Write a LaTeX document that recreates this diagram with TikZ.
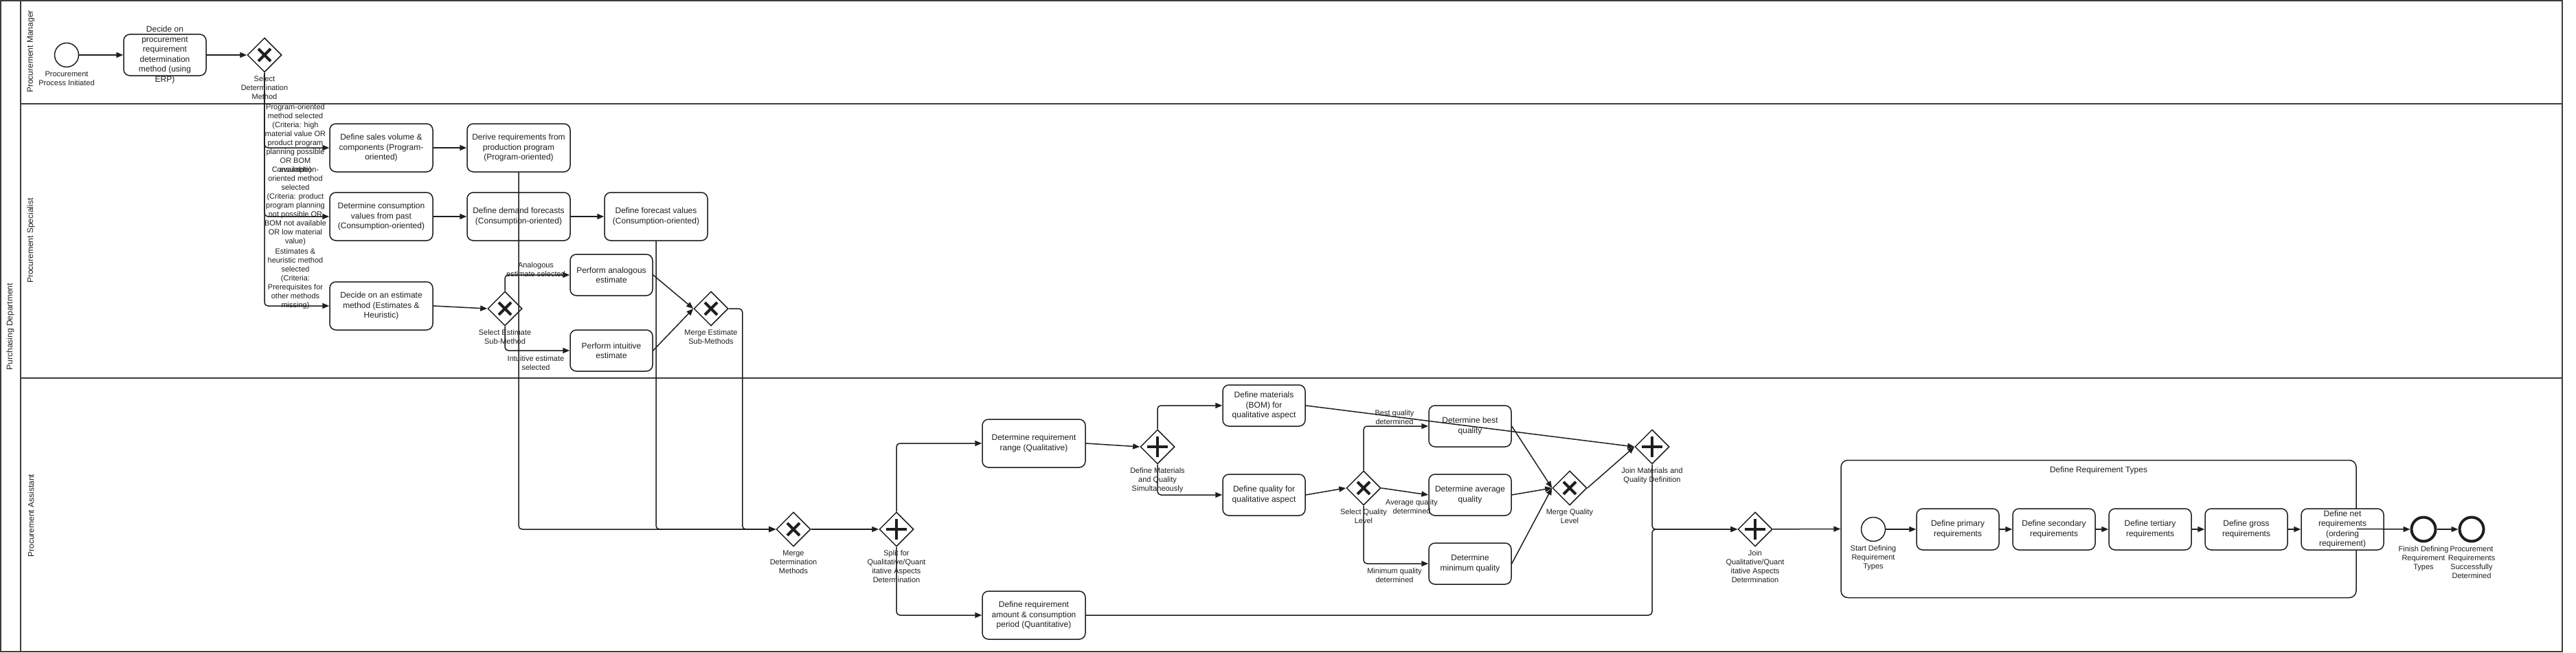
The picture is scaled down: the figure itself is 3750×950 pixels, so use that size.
\documentclass[tikz,border=0pt]{standalone}
\usepackage{fontspec}
\setmainfont{Liberation Sans}
\usetikzlibrary{shapes.geometric,arrows.meta,positioning,calc}
\definecolor{ink}{RGB}{30,30,30}
\definecolor{lanec}{RGB}{60,60,60}
\begin{document}
\begin{tikzpicture}[x=1pt,y=-1pt,
  every node/.style={font=\fontsize{12}{14.5}\selectfont, text=ink},
  task/.style={draw=ink, line width=1.5pt, rounded corners=9pt, fill=white, minimum width=120pt, minimum height=60pt, align=center, inner sep=1pt},
  wtask/.style={task, minimum width=150pt, minimum height=70pt},
  gwbase/.style={diamond, draw=ink, line width=1.5pt, fill=white, minimum width=50pt, minimum height=50pt, inner sep=0pt},
  gwx/.style={gwbase, path picture={\draw[ink, line width=4pt] ([shift={(-9pt,-9pt)}]path picture bounding box.center) -- ([shift={(9pt,9pt)}]path picture bounding box.center) ([shift={(-9pt,9pt)}]path picture bounding box.center) -- ([shift={(9pt,-9pt)}]path picture bounding box.center);}},
  gwp/.style={gwbase, path picture={\draw[ink, line width=4.5pt] ([shift={(-15pt,0pt)}]path picture bounding box.center) -- ([shift={(15pt,0pt)}]path picture bounding box.center) ([shift={(0pt,-15pt)}]path picture bounding box.center) -- ([shift={(0pt,15pt)}]path picture bounding box.center);}},
  startev/.style={circle, draw=ink, line width=1.5pt, fill=white, minimum size=35pt, inner sep=0pt},
  endev/.style={startev, line width=4pt},
  lbl/.style={font=\fontsize{11}{13}\selectfont, align=center, inner sep=0pt},
  flow/.style={draw=ink, line width=1.5pt, rounded corners=5pt, -{Triangle[length=10pt,width=8pt]}},
  lane/.style={draw=lanec, line width=2pt},
]
\useasboundingbox (0,0) rectangle (3750,950);
% pool and lanes
\draw[lane] (1,1) rectangle (3730,948);
\draw[lane] (30,1) -- (30,948);
\draw[lane] (30,151) -- (3730,151);
\draw[lane] (30,550) -- (3730,550);
\node[rotate=90] (pool) at (15,475) {Purchasing Department};
\node[rotate=90] (laneM) at (45,75) {Procurement Manager};
\node[rotate=90] (laneS) at (45,350) {Procurement Specialist};
\node[rotate=90] (laneA) at (45,750) {Procurement Assistant};
% manager lane
\node[startev] (s0) at (97,80) {};
\node[lbl, below=5pt of s0] (s0l) {Procurement\\Process Initiated};
\node[task] (t0) at (240,80) {};
\node[align=center, inner sep=0pt] (t0t) at (t0.center) {Decide on\\procurement\\requirement\\determination\\method (using\\ERP)};
\node[gwx] (g0) at (385,80) {};
\node[lbl, below=5pt of g0] (g0l) {Select\\Determination\\Method};
% specialist lane
\node[wtask] (a1) at (555,215) {Define sales volume \&\\components (Program-\\oriented)};
\node[wtask] (a2) at (755,215) {Derive requirements from\\production program\\(Program-oriented)};
\node[wtask] (b1) at (555,315) {Determine consumption\\values from past\\(Consumption-oriented)};
\node[wtask] (b2) at (755,315) {Define demand forecasts\\(Consumption-oriented)};
\node[wtask] (b3) at (955,315) {Define forecast values\\(Consumption-oriented)};
\node[wtask] (c1) at (555,445) {Decide on an estimate\\method (Estimates \&\\Heuristic)};
\node[gwx] (g1) at (735,449) {};
\node[lbl, below=5pt of g1] (g1l) {Select Estimate\\Sub-Method};
\node[task] (c2) at (890,400) {Perform analogous\\estimate};
\node[task] (c3) at (890,510) {Perform intuitive\\estimate};
\node[gwx] (g2) at (1035,449) {};
\node[lbl, below=5pt of g2] (g2l) {Merge Estimate\\Sub-Methods};
\node[lbl] (e1) at (430,202) {Program-oriented\\method selected\\(Criteria: high\\material value OR\\product program\\planning possible\\OR BOM\\available)};
\node[lbl] (e2) at (430,300) {Consumption-\\oriented method\\selected\\(Criteria: product\\program planning\\not possible OR\\BOM not available\\OR low material\\value)};
\node[lbl] (e3) at (430,406) {Estimates \&\\heuristic method\\selected\\(Criteria:\\Prerequisites for\\other methods\\missing)};
\node[lbl] (e4) at (780,392) {Analogous\\estimate selected};
\node[lbl] (e5) at (780,528) {Intuitive estimate\\selected};
% assistant lane
\node[gwx] (g3) at (1155,770) {};
\node[lbl, below=5pt of g3] (g3l) {Merge\\Determination\\Methods};
\node[gwp] (g4) at (1305,770) {};
\node[lbl, below=5pt of g4] (g4l) {Split for\\Qualitative/Quant\\itative Aspects\\Determination};
\node[wtask] (d1) at (1505,645) {Determine requirement\\range (Qualitative)};
\node[wtask] (d2) at (1505,895) {Define requirement\\amount \& consumption\\period (Quantitative)};
\node[gwp] (g5) at (1685,650) {};
\node[lbl, below=5pt of g5] (g5l) {Define Materials\\and Quality\\Simultaneously};
\node[task] (m1) at (1840,590) {Define materials\\(BOM) for\\qualitative aspect};
\node[task] (m2) at (1840,720) {Define quality for\\qualitative aspect};
\node[gwx] (g6) at (1985,710) {};
\node[lbl, below=5pt of g6] (g6l) {Select Quality\\Level};
\node[task] (q1) at (2140,620) {Determine best\\quality};
\node[task] (q2) at (2140,720) {Determine average\\quality};
\node[task] (q3) at (2140,820) {Determine\\minimum quality};
\node[gwx] (g7) at (2285,710) {};
\node[lbl, below=5pt of g7] (g7l) {Merge Quality\\Level};
\node[gwp] (g8) at (2405,650) {};
\node[lbl, below=5pt of g8] (g8l) {Join Materials and\\Quality Definition};
\node[gwp] (g9) at (2555,770) {};
\node[lbl, below=5pt of g9] (g9l) {Join\\Qualitative/Quant\\itative Aspects\\Determination};
\node[lbl] (e6) at (2030,607) {Best quality\\determined};
\node[lbl] (e7) at (2055,737) {Average quality\\determined};
\node[lbl] (e8) at (2030,837) {Minimum quality\\determined};
% sub-process
\node[draw=ink, line width=1.5pt, rounded corners=10pt, minimum width=750pt, minimum height=200pt, inner sep=0pt] (sp) at (3055,769.5) {};
\node (spt) at (3055,684) {Define Requirement Types};
\node[startev] (s1) at (2727,770) {};
\node[lbl, below=5pt of s1] (s1l) {Start Defining\\Requirement\\Types};
\node[task] (r1) at (2850,770) {Define primary\\requirements};
\node[task] (r2) at (2990,770) {Define secondary\\requirements};
\node[task] (r3) at (3130,770) {Define tertiary\\requirements};
\node[task] (r4) at (3270,770) {Define gross\\requirements};
\node[task] (r5) at (3410,770) {Define net\\requirements\\(ordering\\requirement)};
\node[endev] (f1) at (3528,770) {};
\node[lbl, below=5pt of f1] (f1l) {Finish Defining\\Requirement\\Types};
\node[endev] (f2) at (3598,770) {};
\node[lbl, below=5pt of f2] (f2l) {Procurement\\Requirements\\Successfully\\Determined};
% flows
\draw[flow] (s0) -- (t0);
\draw[flow] (t0) -- (g0);
\draw[flow] (g0.south) |- (a1.west);
\draw[flow] (g0.south) |- (b1.west);
\draw[flow] (g0.south) |- (c1.west);
\draw[flow] (a1) -- (a2);
\draw[flow] (b1) -- (b2);
\draw[flow] (b2) -- (b3);
\draw[flow] (c1.east) -- (g1.west);
\draw[flow] (g1.north) |- (c2.west);
\draw[flow] (g1.south) |- (c3.west);
\draw[flow] (c2.east) -- (g2.west);
\draw[flow] (c3.east) -- (g2.west);
\coordinate (g2o) at ($(g2.east)+(20,0)$);
\draw[flow] (a2.south) |- (g3.west);
\draw[flow] (b3.south) |- (g3.west);
\draw[flow] (g2.east) -- (g2o) |- (g3.west);
\draw[flow] (g3) -- (g4);
\draw[flow] (g4.north) |- (d1.west);
\draw[flow] (g4.south) |- (d2.west);
\draw[flow] (d1.east) -- (g5.west);
\draw[flow] (g5.north) |- (m1.west);
\draw[flow] (g5.south) |- (m2.west);
\draw[flow] (m2.east) -- (g6.west);
\draw[flow] (g6.north) |- (q1.west);
\draw[flow] (g6.east) -- (q2.west);
\draw[flow] (g6.south) |- (q3.west);
\draw[flow] (q1.east) -- (g7.west);
\draw[flow] (q2.east) -- (g7.west);
\draw[flow] (q3.east) -- (g7.west);
\draw[flow] (g7.east) -- (g8.west);
\draw[flow] (m1.east) -- (g8.west);
\draw[flow] (g8.south) |- (g9.west);
\draw[flow] (d2.east) -- (d2.east -| g8.south) -- (g8.south |- g9.west) -- (g9.west);
\draw[flow] (g9) -- (sp.west);
\draw[flow] (s1) -- (r1);
\draw[flow] (r1) -- (r2);
\draw[flow] (r2) -- (r3);
\draw[flow] (r3) -- (r4);
\draw[flow] (r4) -- (r5);
\draw[flow] (sp.east) -- (f1.west);
\draw[flow] (f1) -- (f2);
\end{tikzpicture}
\end{document}
